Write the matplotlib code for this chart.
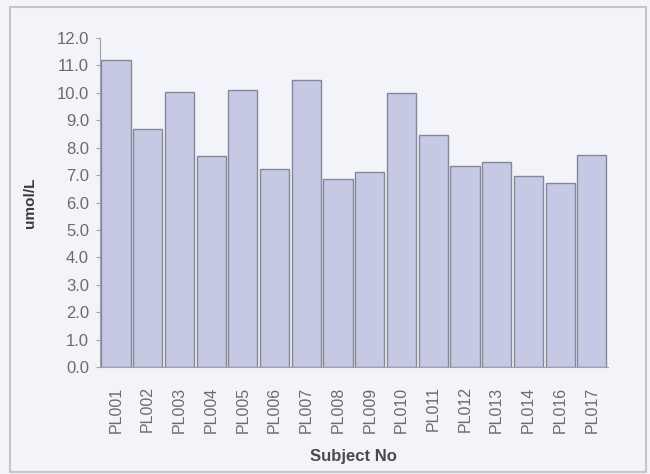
import matplotlib
matplotlib.use("Agg")
import matplotlib.pyplot as plt
from matplotlib.patches import Rectangle

subjects = ["PL001", "PL002", "PL003", "PL004", "PL005", "PL006", "PL007", "PL008",
            "PL009", "PL010", "PL011", "PL012", "PL013", "PL014", "PL016", "PL017"]
values = [11.2, 8.7, 10.05, 7.7, 10.1, 7.23, 10.47, 6.86,
          7.11, 9.98, 8.45, 7.34, 7.47, 6.95, 6.71, 7.73]
yticks = [0.0, 1.0, 2.0, 3.0, 4.0, 5.0, 6.0, 7.0, 8.0, 9.0, 10.0, 11.0, 12.0]

plt.rcParams['font.family'] = ['Liberation Sans', 'DejaVu Sans']

bg = "#f3f4f9"
fig = plt.figure(figsize=(6.5, 4.74), dpi=100, facecolor=bg)
# outer chart border
fig.patches.append(Rectangle((10/650, 2/474), 636/650, 465/474, transform=fig.transFigure,
                             fill=False, edgecolor="#c4c4cc", linewidth=1.5))

ax = fig.add_axes([0.154, 0.2257, 0.781, 0.694])
ax.set_facecolor(bg)
x = list(range(len(subjects)))
ax.bar(x, values, width=0.92, color="#c6c9e4", edgecolor="#858799", linewidth=1.0)

ax.set_xlim(-0.5, len(subjects) - 0.5)
ax.set_ylim(0, 12)
ax.set_yticks(yticks)
ax.set_yticklabels([f"{v:.1f}" for v in yticks], fontsize=12, color="#6a6a70")
ax.set_xticks(x)
ax.set_xticklabels(subjects, rotation=90, fontsize=11.5, color="#6a6a70")
ax.tick_params(axis='x', length=0, pad=14)
ax.tick_params(axis='y', length=3, color="#a0a0a8", pad=5)

for s in ["top", "right"]:
    ax.spines[s].set_visible(False)
for s in ["left", "bottom"]:
    ax.spines[s].set_color("#a0a0a8")

ax.set_ylabel("umol/L", fontsize=11, fontweight="bold", color="#3a3a40", labelpad=14)
ax.set_xlabel("Subject No", fontsize=12, fontweight="bold", color="#4a4a50", labelpad=12)

fig.savefig("out.png", dpi=100, facecolor=bg)
